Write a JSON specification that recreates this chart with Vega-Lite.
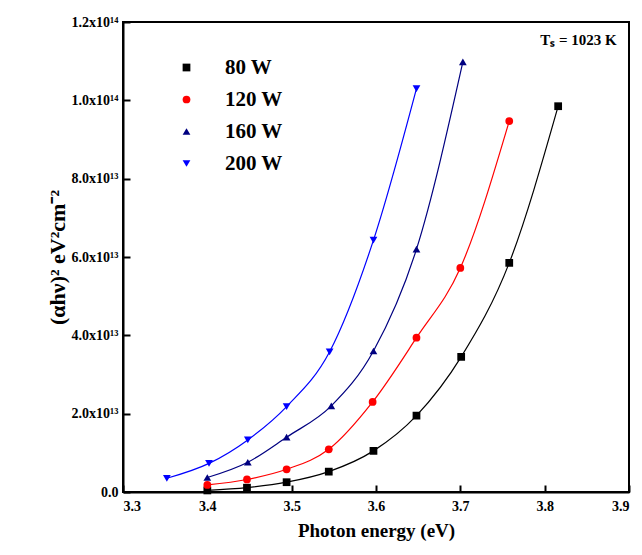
{
  "$schema": "https://vega.github.io/schema/vega-lite/v6.json",
  "width": 506,
  "height": 470,
  "autosize": {"type": "none"},
  "padding": {"left": 123, "top": 22, "right": 13, "bottom": 63},
  "background": "white",
  "datasets": {
    "pts": [
      {"s": "80 W", "x": 3.40, "y": 0.4e12},
      {"s": "80 W", "x": 3.447, "y": 1.1e12},
      {"s": "80 W", "x": 3.494, "y": 2.5e12},
      {"s": "80 W", "x": 3.544, "y": 5.2e12},
      {"s": "80 W", "x": 3.597, "y": 10.5e12},
      {"s": "80 W", "x": 3.648, "y": 19.5e12},
      {"s": "80 W", "x": 3.701, "y": 34.5e12},
      {"s": "80 W", "x": 3.758, "y": 58.5e12},
      {"s": "80 W", "x": 3.816, "y": 98.5e12},
      {"s": "120 W", "x": 3.40, "y": 1.8e12},
      {"s": "120 W", "x": 3.447, "y": 3.2e12},
      {"s": "120 W", "x": 3.494, "y": 5.8e12},
      {"s": "120 W", "x": 3.544, "y": 10.9e12},
      {"s": "120 W", "x": 3.596, "y": 23.0e12},
      {"s": "120 W", "x": 3.648, "y": 39.4e12},
      {"s": "120 W", "x": 3.70, "y": 57.2e12},
      {"s": "120 W", "x": 3.758, "y": 94.7e12},
      {"s": "160 W", "x": 3.40, "y": 3.7e12},
      {"s": "160 W", "x": 3.448, "y": 7.6e12},
      {"s": "160 W", "x": 3.494, "y": 14.0e12},
      {"s": "160 W", "x": 3.547, "y": 22.0e12},
      {"s": "160 W", "x": 3.597, "y": 36.0e12},
      {"s": "160 W", "x": 3.648, "y": 62.0e12},
      {"s": "160 W", "x": 3.703, "y": 109.8e12},
      {"s": "200 W", "x": 3.352, "y": 3.5e12},
      {"s": "200 W", "x": 3.402, "y": 7.3e12},
      {"s": "200 W", "x": 3.448, "y": 13.3e12},
      {"s": "200 W", "x": 3.494, "y": 21.8e12},
      {"s": "200 W", "x": 3.545, "y": 35.8e12},
      {"s": "200 W", "x": 3.597, "y": 64.3e12},
      {"s": "200 W", "x": 3.648, "y": 103.0e12}
    ],
    "note": [{"x": 3.84, "y": 1.155e14, "t": "Tₛ = 1023 K"}]
  },
  "resolve": {"legend": {"color": "independent", "shape": "independent", "size": "independent"}},
  "layer": [
    {
      "data": {"name": "pts"},
      "mark": {"type": "line", "interpolate": "monotone", "strokeWidth": 1.2},
      "encoding": {
        "x": {"field": "x", "type": "quantitative",
          "scale": {"domain": [3.3, 3.9], "nice": false, "zero": false},
          "axis": {"title": "Photon energy (eV)", "values": [3.3, 3.4, 3.5, 3.6, 3.7, 3.8, 3.9], "format": ".1f",
            "grid": false, "tickSize": -7, "tickWidth": 2, "domainWidth": 2, "domainColor": "black", "tickColor": "black",
            "labelPadding": 14, "labelFont": "Liberation Serif", "labelFontWeight": "bold", "labelFontSize": 14, "labelColor": "black",
            "titleFont": "Liberation Serif", "titleFontWeight": "bold", "titleFontSize": 19, "titleColor": "black", "titlePadding": 8}},
        "y": {"field": "y", "type": "quantitative",
          "scale": {"domain": [0, 1.2e14], "nice": false},
          "axis": {"title": "(αhν)² eV²cm⁻²", "values": [0, 2e13, 4e13, 6e13, 8e13, 1e14, 1.2e14],
            "labelExpr": "datum.value == 0 ? '0.0' : (datum.value >= 1e14 ? format(datum.value/1e14,'.1f') + 'x10¹⁴' : format(datum.value/1e13,'.1f') + 'x10¹³')",
            "grid": false, "tickSize": -7, "tickWidth": 2, "domainWidth": 2, "domainColor": "black", "tickColor": "black",
            "labelPadding": 12, "labelFont": "Liberation Serif", "labelFontWeight": "bold", "labelFontSize": 14, "labelColor": "black",
            "titleFont": "Liberation Serif", "titleFontWeight": "bold", "titleFontSize": 22, "titleColor": "black", "titlePadding": 2}},
        "color": {"field": "s", "type": "nominal",
          "scale": {"domain": ["80 W", "120 W", "160 W", "200 W"], "range": ["#000000", "#ff0000", "#000080", "#0000ff"]},
          "legend": null},
        "detail": {"field": "s"}
      }
    },
    {
      "data": {"name": "pts"},
      "mark": {"type": "point", "filled": true, "opacity": 1},
      "encoding": {
        "x": {"field": "x", "type": "quantitative"},
        "y": {"field": "y", "type": "quantitative"},
        "color": {"field": "s", "type": "nominal",
          "scale": {"domain": ["80 W", "120 W", "160 W", "200 W"], "range": ["#000000", "#ff0000", "#000080", "#0000ff"]},
          "legend": {"orient": "none", "legendX": 53, "legendY": 35, "title": null, "padding": 0,
            "labelFont": "Liberation Serif", "labelFontWeight": "bold", "labelFontSize": 21, "labelColor": "black",
            "rowPadding": 10, "labelOffset": 28,
            "encode": {
              "symbols": {
                "shape": {"value": {"expr": "datum.value == '80 W' ? 'M-1,0H-0.35M0.35,0H1M-0.16,-0.16H0.16V0.16H-0.16Z' : datum.value == '120 W' ? 'M-1,0H-0.35M0.35,0H1M-0.15,0A0.15,0.15 0 1,0 0.15,0A0.15,0.15 0 1,0 -0.15,0Z' : datum.value == '160 W' ? 'M-1,0H-0.35M0.35,0H1M0,-0.2L0.2,0.15H-0.2Z' : 'M-1,0H-0.35M0.35,0H1M0,0.2L0.2,-0.15H-0.2Z'"}},
                "size": {"value": 2704},
                "stroke": {"value": {"expr": "datum.value == '80 W' ? '#000000' : datum.value == '120 W' ? '#ff0000' : datum.value == '160 W' ? '#000080' : '#0000ff'"}},
                "fill": {"value": {"expr": "datum.value == '80 W' ? '#000000' : datum.value == '120 W' ? '#ff0000' : datum.value == '160 W' ? '#000080' : '#0000ff'"}},
                "strokeWidth": {"value": 1.2},
                "opacity": {"value": 1}
              }
            }}},
        "shape": {"field": "s", "type": "nominal",
          "scale": {"domain": ["80 W", "120 W", "160 W", "200 W"], "range": ["square", "circle", "triangle-up", "triangle-down"]},
          "legend": null},
        "size": {"field": "s", "type": "nominal",
          "scale": {"domain": ["80 W", "120 W", "160 W", "200 W"], "range": [60, 60, 110, 110]},
          "legend": null}
      }
    },
    {
      "data": {"name": "note"},
      "mark": {"type": "text", "font": "Liberation Serif", "fontWeight": "bold", "fontSize": 15, "color": "black"},
      "encoding": {
        "x": {"field": "x", "type": "quantitative"},
        "y": {"field": "y", "type": "quantitative"},
        "text": {"field": "t"}
      }
    }
  ],
  "config": {
    "view": {"stroke": "black", "strokeWidth": 2},
    "font": "Liberation Serif"
  }
}
